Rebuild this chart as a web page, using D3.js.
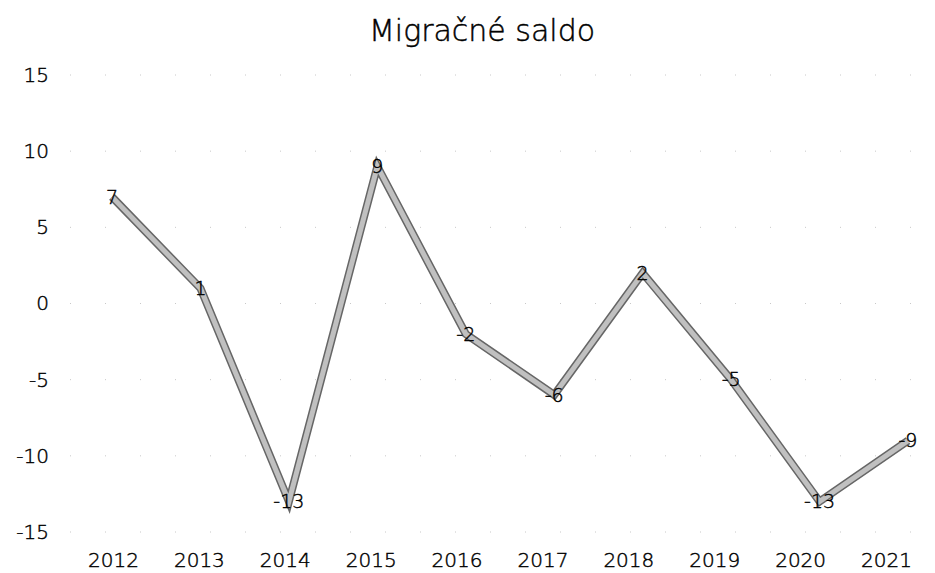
<!DOCTYPE html>
<html>
<head>
<meta charset="utf-8">
<script src="https://cdn.jsdelivr.net/npm/d3@7"></script>
<style>
  body { margin: 0; background: #fff; }
  text { font-family: 'DejaVu Sans', sans-serif; font-weight: 200; fill: #000; stroke: #000; stroke-width: 0.45px; }
</style>
</head>
<body>
<script>
const years = ['2012', '2013', '2014', '2015', '2016', '2017', '2018', '2019', '2020', '2021']
const saldo = [7, 1, -13, 9, -2, -6, 2, -5, -13, -9]
const yTicks = [-15, -10, -5, 0, 5, 10, 15]

const width = 935
const height = 573
const font = "'DejaVu Sans', sans-serif"

const svg = d3.select('body').append('svg')
    .attr('width', width)
    .attr('height', height)

const yScale = d3.scaleLinear()
    .domain([-15, 15])
    .range([532, 75])

// axis labels sit slightly left of the plotted points in the original
const xAxisScale = d3.scalePoint()
    .domain(years)
    .range([113, 886])

const xScale = d3.scalePoint()
    .domain(years)
    .range([112, 908])

svg.append('text')
    .attr('x', 482)
    .attr('y', 30)
    .attr('dy', '0.35em')
    .style('text-anchor', 'middle')
    .style('font-size', '30px')
    .text('Migračné saldo')

// faint dotted grid
svg.append('g')
    .selectAll('line')
    .data(yTicks)
    .enter().append('line')
    .attr('x1', 70)
    .attr('x2', 930)
    .attr('y1', d => yScale(d))
    .attr('y2', d => yScale(d))
    .style('stroke', '#c8c8c8')
    .style('stroke-width', 1)
    .style('stroke-dasharray', '1,34')

const styleTicks = g => g.selectAll('text')
    .style('font-size', '20px')
    .style('font-family', font)
    .style('font-weight', 200)
    .style('fill', '#000')

const yAxis = svg.append('g')
    .attr('transform', 'translate(49, 0)')
    .call(d3.axisLeft(yScale).tickValues(yTicks).tickFormat(d => String(d)).tickSize(0).tickPadding(0))
yAxis.select('.domain').remove()
styleTicks(yAxis)

const xAxis = svg.append('g')
    .attr('transform', 'translate(0, 553)')
    .call(d3.axisBottom(xAxisScale).tickSize(0).tickPadding(0))
xAxis.select('.domain').remove()
styleTicks(xAxis)

const line = d3.line()
    .x((d, i) => xScale(years[i]))
    .y(d => yScale(d))

svg.append('path')
    .datum(saldo)
    .attr('d', line)
    .style('fill', 'none')
    .style('stroke', '#666')
    .style('stroke-width', 8)
    .style('stroke-linejoin', 'miter')

svg.append('path')
    .datum(saldo)
    .attr('d', line)
    .style('fill', 'none')
    .style('stroke', '#c0c0c0')
    .style('stroke-width', 5)
    .style('stroke-linejoin', 'miter')

svg.selectAll('.label')
    .data(saldo)
    .enter().append('text')
    .attr('class', 'label')
    .attr('x', (d, i) => xScale(years[i]))
    .attr('y', d => yScale(d))
    .attr('dy', '0.35em')
    .style('text-anchor', 'middle')
    .style('font-size', '19px')
    .text(d => String(d))
</script>
</body>
</html>
